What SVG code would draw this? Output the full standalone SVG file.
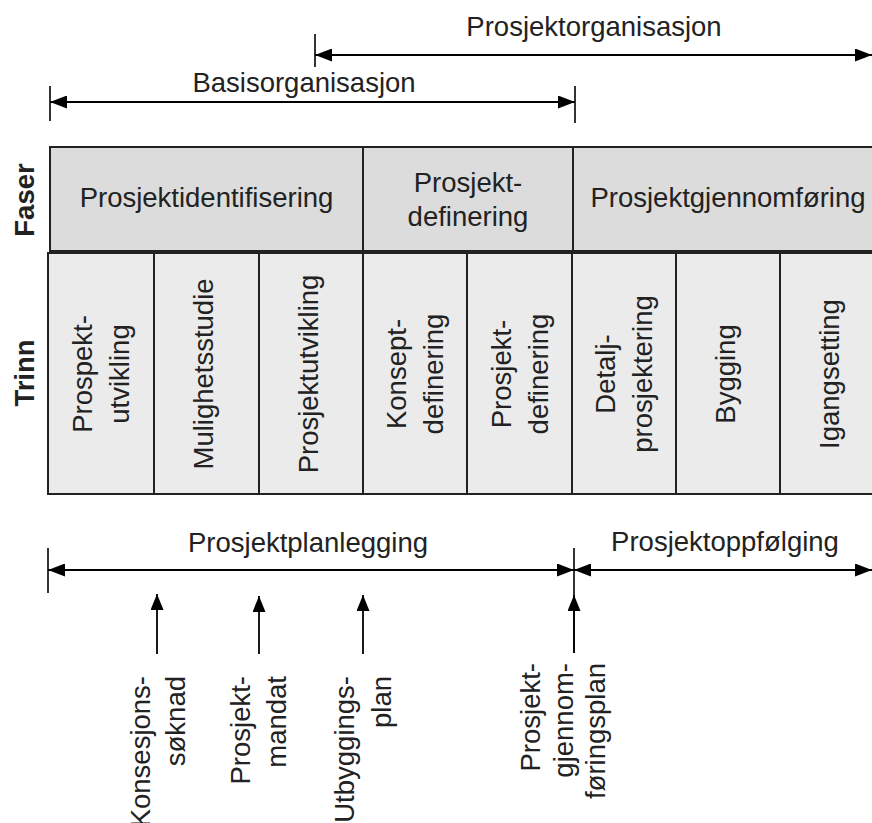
<svg xmlns="http://www.w3.org/2000/svg" width="872" height="823" viewBox="0 0 872 823">
  <defs>
    <style>
      text { font-family: "Liberation Sans", Arial, sans-serif; font-size: 27.5px; fill: #222; }
      .mid { text-anchor: middle; }
      .end { text-anchor: end; }
      .bold { font-weight: bold; }
      .fase rect { fill: #dcdcdc; stroke: #222; stroke-width: 2; }
      .trinn rect { fill: #ebebeb; stroke: #222; stroke-width: 2; }
      .span { stroke: #000; stroke-width: 2; fill: none; }
      .tick { stroke: #000; stroke-width: 1.6; }
      .shaft { stroke: #000; stroke-width: 1.8; fill: none; }
    </style>
    <marker id="head" viewBox="0 0 17 13" refX="17" refY="6.5" markerWidth="17" markerHeight="13" markerUnits="userSpaceOnUse" orient="auto-start-reverse">
      <path d="M0,0 L17,6.5 L0,13 Z" fill="#000"/>
    </marker>
    <marker id="up" viewBox="0 0 16 13" refX="16" refY="6.5" markerWidth="16" markerHeight="13" markerUnits="userSpaceOnUse" orient="auto">
      <path d="M0,0 L16,6.5 L0,13 Z" fill="#000"/>
    </marker>
  </defs>

  <rect width="872" height="823" fill="#fff"/>

  <!-- row labels -->
  <g id="label-faser">
    <text class="mid bold" transform="translate(33.5,200) rotate(-90)">Faser</text>
  </g>
  <g id="label-trinn">
    <text class="mid bold" transform="translate(33.5,373) rotate(-90)">Trinn</text>
  </g>

  <!-- phases -->
  <g id="fase-identifisering" class="fase">
    <rect x="50" y="147" width="313" height="104"/>
    <text class="mid" x="206.5" y="207">Prosjektidentifisering</text>
  </g>
  <g id="fase-definering" class="fase">
    <rect x="363" y="147" width="210" height="104"/>
    <text class="mid" x="468" y="192">Prosjekt-</text>
    <text class="mid" x="468" y="226">definering</text>
  </g>
  <g id="fase-gjennomforing" class="fase">
    <rect x="573" y="147" width="312" height="104"/>
    <text class="mid" x="728" y="207">Prosjektgjennomføring</text>
  </g>

  <!-- steps -->
  <g id="trinn-prospektutvikling" class="trinn">
    <rect x="48" y="253" width="106" height="241"/>
    <text class="mid" transform="translate(101,374) rotate(-90)"><tspan x="0" y="-9">Prospekt-</tspan><tspan x="0" y="28">utvikling</tspan></text>
  </g>
  <g id="trinn-mulighetsstudie" class="trinn">
    <rect x="154" y="253" width="105" height="241"/>
    <text class="mid" transform="translate(206.5,374) rotate(-90)" y="6.5">Mulighetsstudie</text>
  </g>
  <g id="trinn-prosjektutvikling" class="trinn">
    <rect x="259" y="253" width="104" height="241"/>
    <text class="mid" transform="translate(311,374) rotate(-90)" y="6.5">Prosjektutvikling</text>
  </g>
  <g id="trinn-konseptdefinering" class="trinn">
    <rect x="363" y="253" width="104" height="241"/>
    <text class="mid" transform="translate(415,374) rotate(-90)"><tspan x="0" y="-9">Konsept-</tspan><tspan x="0" y="28">definering</tspan></text>
  </g>
  <g id="trinn-prosjektdefinering" class="trinn">
    <rect x="467" y="253" width="105" height="241"/>
    <text class="mid" transform="translate(519.5,374) rotate(-90)"><tspan x="0" y="-9">Prosjekt-</tspan><tspan x="0" y="28">definering</tspan></text>
  </g>
  <g id="trinn-detaljprosjektering" class="trinn">
    <rect x="572" y="253" width="104" height="241"/>
    <text class="mid" transform="translate(624,374) rotate(-90)"><tspan x="0" y="-9">Detalj-</tspan><tspan x="0" y="28">prosjektering</tspan></text>
  </g>
  <g id="trinn-bygging" class="trinn">
    <rect x="676" y="253" width="104" height="241"/>
    <text class="mid" transform="translate(728,374) rotate(-90)" y="6.5">Bygging</text>
  </g>
  <g id="trinn-igangsetting" class="trinn">
    <rect x="780" y="253" width="105" height="241"/>
    <text class="mid" transform="translate(832,374) rotate(-90)" y="6.5">Igangsetting</text>
  </g>

  <!-- span labels -->
  <g id="span-prosjektorganisasjon">
    <text class="mid" x="594" y="36">Prosjektorganisasjon</text>
  </g>
  <g id="span-basisorganisasjon">
    <text class="mid" x="304" y="92">Basisorganisasjon</text>
  </g>
  <g id="span-prosjektplanlegging">
    <text class="mid" x="308" y="552">Prosjektplanlegging</text>
  </g>
  <g id="span-prosjektoppfolging">
    <text class="mid" x="725" y="551">Prosjektoppfølging</text>
  </g>

  <!-- documents -->
  <g id="dok-konsesjonssoknad">
    <text class="end" transform="translate(157,676) rotate(-90)"><tspan x="0" y="-7.5">Konsesjons-</tspan><tspan x="0" y="27.5">søknad</tspan></text>
  </g>
  <g id="dok-prosjektmandat">
    <text class="end" transform="translate(259,676) rotate(-90)"><tspan x="0" y="-9.5">Prosjekt-</tspan><tspan x="0" y="27">mandat</tspan></text>
  </g>
  <g id="dok-utbyggingsplan">
    <text class="end" transform="translate(363,676) rotate(-90)"><tspan x="0" y="-9.5">Utbyggings-</tspan><tspan x="0" y="28">plan</tspan></text>
  </g>
  <g id="dok-gjennomforingsplan">
    <text class="end" transform="translate(574,663) rotate(-90)"><tspan x="0" y="-34.5">Prosjekt-</tspan><tspan x="0" y="-1">gjennom-</tspan><tspan x="0" y="31">føringsplan</tspan></text>
  </g>

  <!-- connectors -->
  <g id="connectors">
    <line class="span" x1="315" y1="55" x2="872" y2="55" marker-start="url(#head)" marker-end="url(#head)"/>
    <line class="tick" x1="315" y1="34" x2="315" y2="67"/>

    <line class="span" x1="50" y1="102" x2="575" y2="102" marker-start="url(#head)" marker-end="url(#head)"/>
    <line class="tick" x1="50" y1="86" x2="50" y2="121"/>
    <line class="tick" x1="575" y1="86" x2="575" y2="123"/>

    <line class="span" x1="48" y1="570" x2="574" y2="570" marker-start="url(#head)" marker-end="url(#head)"/>
    <line class="tick" x1="48" y1="548" x2="48" y2="593"/>
    <line class="span" x1="574" y1="570" x2="872" y2="570" marker-start="url(#head)" marker-end="url(#head)"/>

    <line class="tick" x1="574" y1="548" x2="574" y2="653"/>
    <line class="shaft" x1="574" y1="653" x2="574" y2="595" marker-end="url(#up)"/>
    <line class="shaft" x1="157" y1="654" x2="157" y2="594" marker-end="url(#up)"/>
    <line class="shaft" x1="259" y1="654" x2="259" y2="596" marker-end="url(#up)"/>
    <line class="shaft" x1="363" y1="654" x2="363" y2="595" marker-end="url(#up)"/>
  </g>
</svg>
